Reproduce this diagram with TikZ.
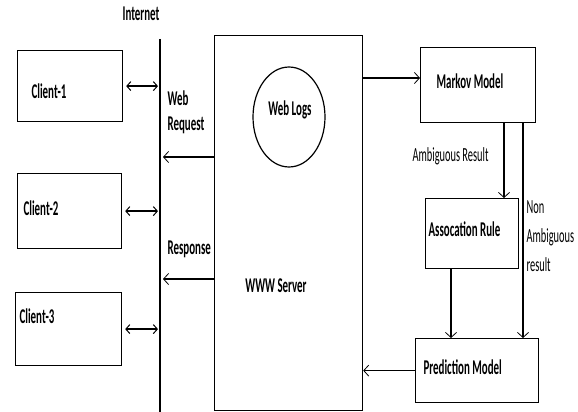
\documentclass[tikz,border=0pt]{standalone}
\usepackage{fontspec}
\setmainfont{Carlito}[FakeStretch=0.52]
\usetikzlibrary{arrows.meta,shapes.geometric}
\begin{document}
\begin{tikzpicture}[x=1pt,y=-1pt,line width=1.2pt,
  box/.style={draw,rectangle,inner sep=0pt,anchor=north west},
  lbl/.style={font=\fontsize{21}{25}\selectfont\bfseries,inner sep=0pt},
  note/.style={font=\fontsize{20}{29}\selectfont,inner sep=0pt},
  arr/.style={-{Straight Barb[length=5pt,width=11pt,line width=0.8pt]}},
  dbl/.style={line width=1.5pt,{Straight Barb[length=4pt,width=9pt,line width=1pt]}-{Straight Barb[length=4pt,width=9pt,line width=1pt]}}]
\useasboundingbox (0,0) rectangle (578,412);

% clients
\node[box,minimum width=105pt,minimum height=71pt] (c1) at (17,50) {};
\node[box,minimum width=104pt,minimum height=75pt] (c2) at (17,173) {};
\node[box,minimum width=106pt,minimum height=73pt] (c3) at (15,292) {};
\node[lbl,anchor=west] (t1) at (31,91) {Client-1};
\node[lbl,anchor=west] (t2) at (23,208) {Client-2};
\node[lbl,anchor=west] (t3) at (19,316) {Client-3};

% internet backbone
\coordinate (nettop) at (160,39);
\coordinate (netbot) at (160,412);
\draw (nettop) -- (netbot);
\node[lbl] (inet) at (141,14) {Internet};

\draw[dbl,shorten <=3pt,shorten >=2pt] (c1.east) -- (c1.east -| nettop);
\draw[dbl,shorten <=3pt,shorten >=2pt] (c2.east) -- (c2.east -| nettop);
\draw[dbl,shorten <=3pt,shorten >=2pt] (c3.east) -- (c3.east -| nettop);

% server
\node[box,minimum width=148pt,minimum height=375pt] (server) at (214,35) {};
\node[draw,ellipse,minimum width=72pt,minimum height=100pt,inner sep=0pt] (logs) at (289,117) {};
\node[lbl] (logst) at (290,110) {Web Logs};
\node[lbl] (srvt) at (276,286) {WWW Server};

\node[lbl,align=left,anchor=west] (req) at (167,112) {Web\\Request};
\node[lbl,anchor=west] (resp) at (167,249) {Response};
\draw[arr,shorten >=3pt] (server.west |- 0,157) -- (nettop |- 0,157);
\draw[arr,shorten >=3pt] (server.west |- 0,279) -- (nettop |- 0,279);

% mining pipeline
\node[box,minimum width=115pt,minimum height=75pt] (markov) at (420,47) {};
\node[lbl,anchor=west] (markovt) at (436,81) {Markov Model};
\node[box,minimum width=93pt,minimum height=70pt] (assoc) at (425,198) {};
\node[lbl,anchor=west] (assoct) at (428,229) {Assocation Rule};
\node[box,minimum width=123pt,minimum height=64pt] (pred) at (415,338) {};
\node[lbl,anchor=west] (predt) at (423,367) {Prediction Model};

\node[note,anchor=west] (amb) at (412,156) {Ambiguous Result};
\node[note,anchor=west,align=left] (namb) at (526,236) {Non\\Ambiguous\\result};

\draw[arr] (server.east |- 0,78) -- (markov.west |- 0,78);
\draw[arr] (markov.south -| 504,0) -- (assoc.north -| 504,0);
\draw[arr] (markov.south -| 523,0) -- (pred.north -| 523,0);
\draw[arr] (assoc.south -| 451,0) -- (pred.north -| 451,0);
\draw[arr] (pred.west) -- (pred.west -| server.east);
\end{tikzpicture}
\end{document}
